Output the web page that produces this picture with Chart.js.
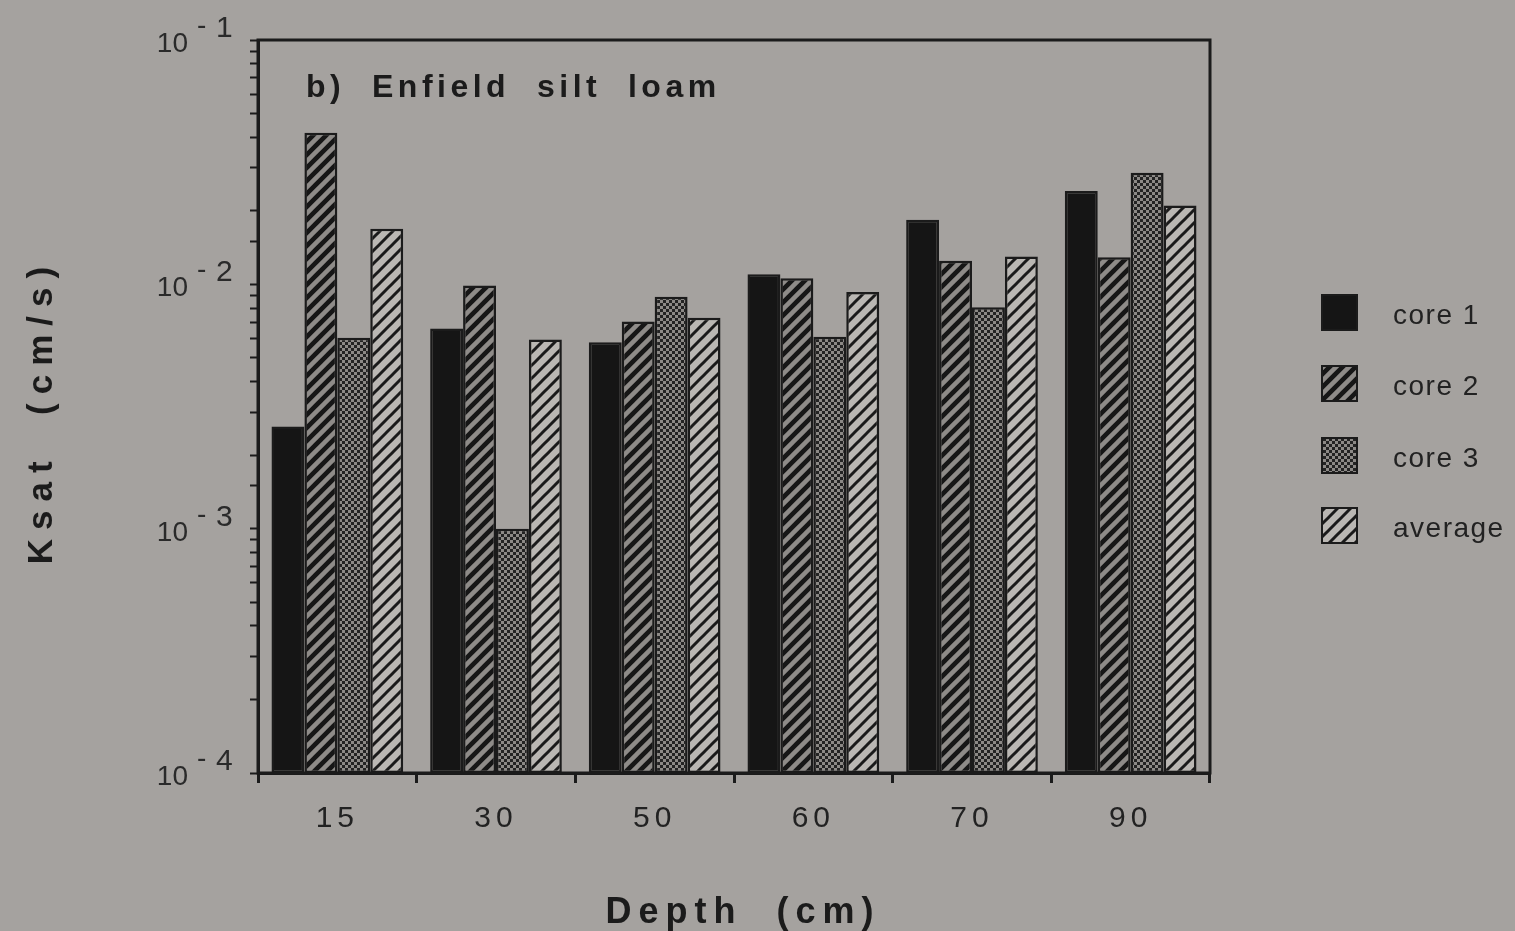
<!DOCTYPE html>
<html>
<head>
<meta charset="utf-8">
<script src="https://cdn.jsdelivr.net/npm/chart.js@4.4.1/dist/chart.umd.min.js"></script>
<style>
  html, body { margin: 0; padding: 0; background: #a5a29f; }
  #wrap { width: 1515px; height: 931px; }
</style>
</head>
<body>
<div id="wrap"><canvas id="chartKsat" width="1515" height="931"></canvas></div>
<script>
// Dados (Ksat em cm/s, escala log)
const depths = ['15', '30', '50', '60', '70', '90'];
const core1 = [2.62e-3, 6.6e-3, 5.8e-3, 1.1e-2, 1.84e-2, 2.41e-2];
const core2 = [4.17e-2, 9.9e-3, 7.05e-3, 1.06e-2, 1.25e-2, 1.29e-2];
const core3 = [6.05e-3, 1.0e-3, 8.9e-3, 6.1e-3, 8.05e-3, 2.86e-2];
const average = [1.69e-2, 5.95e-3, 7.3e-3, 9.3e-3, 1.3e-2, 2.1e-2];
const decades = [1e-4, 1e-3, 1e-2, 1e-1];
const decadeExp = ['4', '3', '2', '1'];

const BG = '#a5a29f';
const INK = '#1b1b1b';

// padrões de preenchimento (hachuras)
function stripes(bg, fg, width, period) {
    const c = document.createElement('canvas');
    c.width = period; c.height = period;
    const g = c.getContext('2d');
    g.fillStyle = bg;
    g.fillRect(0, 0, period, period);
    g.strokeStyle = fg;
    g.lineWidth = width;
    g.lineCap = 'square';
    [[0, period, period, 0], [-2, 2, 2, -2], [period - 2, period + 2, period + 2, period - 2]].forEach(l => {
        g.beginPath(); g.moveTo(l[0], l[1]); g.lineTo(l[2], l[3]); g.stroke();
    });
    return g.createPattern(c, 'repeat');
}

function dots(bg, fg) {
    const c = document.createElement('canvas');
    c.width = 6; c.height = 6;
    const g = c.getContext('2d');
    g.fillStyle = bg;
    g.fillRect(0, 0, 6, 6);
    g.fillStyle = fg;
    g.fillRect(0, 0, 3, 3);
    g.fillRect(3, 3, 3, 3);
    return g.createPattern(c, 'repeat');
}

const fillCore1 = '#151515';
const fillCore2 = stripes('#161616', '#8e8b88', 4.5, 13);
const fillCore3 = dots('#232323', '#8c8986');
const fillAvg = stripes('#bab7b3', '#1a1a1a', 3, 13);

// fundo, moldura, rótulos e legenda
const decorPlugin = {
    id: 'decor',
    beforeDraw(chart) {
        const ctx = chart.ctx;
        ctx.save();
        ctx.fillStyle = BG;
        ctx.fillRect(0, 0, chart.width, chart.height);
        ctx.restore();
        ctx.letterSpacing = '5px';
    },
    afterDraw(chart) {
        const ctx = chart.ctx;
        const a = chart.chartArea;
        const y = chart.scales.y;
        ctx.save();
        ctx.letterSpacing = '0px';

        // moldura
        ctx.strokeStyle = INK;
        ctx.lineWidth = 3;
        ctx.strokeRect(a.left, a.top, a.right - a.left, a.bottom - a.top);

        // rótulos do eixo y: 10^-n
        ctx.fillStyle = '#2a2a2a';
        decades.forEach((v, i) => {
            const py = y.getPixelForValue(v);
            ctx.font = '28px "Liberation Sans", Arial, sans-serif';
            ctx.textAlign = 'right';
            ctx.textBaseline = 'alphabetic';
            ctx.fillText('10', 188, py + 12);
            ctx.textAlign = 'left';
            ctx.fillText('-', 197, py - 6);
            ctx.font = '30px "Liberation Sans", Arial, sans-serif';
            ctx.fillText(decadeExp[i], 216, py - 3);
        });

        // título interno
        ctx.fillStyle = INK;
        ctx.font = 'bold 32px "Liberation Sans", Arial, sans-serif';
        ctx.letterSpacing = '4.5px';
        ctx.textAlign = 'left';
        ctx.fillText('b)  Enfield  silt  loam', 306, 97);

        // título do eixo x
        ctx.font = 'bold 36px "Liberation Sans", Arial, sans-serif';
        ctx.letterSpacing = '7px';
        ctx.textAlign = 'center';
        ctx.fillText('Depth  (cm)', 743, 923);

        // título do eixo y
        ctx.save();
        ctx.translate(52, 415);
        ctx.rotate(-Math.PI / 2);
        ctx.font = 'bold 35px "Liberation Sans", Arial, sans-serif';
        ctx.letterSpacing = '9px';
        ctx.textAlign = 'center';
        ctx.fillText('Ksat  (cm/s)', 4, 0);
        ctx.restore();

        // legenda
        const rows = [295, 366, 438, 508];
        ctx.font = '28px "Liberation Sans", Arial, sans-serif';
        ctx.letterSpacing = '1.5px';
        ctx.textAlign = 'left';
        ctx.textBaseline = 'middle';
        chart.data.datasets.forEach((ds, i) => {
            const top = rows[i];
            ctx.fillStyle = ds.backgroundColor;
            ctx.fillRect(1322, top, 35, 35);
            ctx.strokeStyle = INK;
            ctx.lineWidth = 2;
            ctx.strokeRect(1322, top, 35, 35);
            ctx.fillStyle = '#222';
            ctx.fillText(ds.label, 1393, top + 21);
        });
        ctx.restore();
    }
};

const barStyle = { borderColor: INK, borderWidth: 2.5, borderSkipped: false,
                   categoryPercentage: 0.83, barPercentage: 1.0 };

new Chart(document.getElementById('chartKsat'), {
    type: 'bar',
    data: {
        labels: depths,
        datasets: [
            { label: 'core 1', data: core1, backgroundColor: fillCore1, ...barStyle },
            { label: 'core 2', data: core2, backgroundColor: fillCore2, ...barStyle },
            { label: 'core 3', data: core3, backgroundColor: fillCore3, ...barStyle },
            { label: 'average', data: average, backgroundColor: fillAvg, ...barStyle }
        ]
    },
    options: {
        responsive: false,
        animation: false,
        layout: { padding: { left: 0, top: 40, right: 305, bottom: 0 } },
        plugins: { legend: { display: false }, tooltip: { enabled: false } },
        scales: {
            x: {
                type: 'category',
                offset: true,
                grid: { offset: true, drawOnChartArea: false, tickLength: 10, tickWidth: 3, tickColor: INK },
                border: { display: true, color: INK, width: 3 },
                ticks: { color: '#222', padding: 18, font: { size: 30, family: '"Liberation Sans", Arial, sans-serif' } },
                afterFit: (s) => { s.height = 158; }
            },
            y: {
                type: 'logarithmic',
                min: 1e-4,
                max: 1e-1,
                grid: { drawOnChartArea: false, tickLength: 8, tickWidth: 2, tickColor: INK },
                border: { display: true, color: INK, width: 3 },
                ticks: { autoSkip: false, callback: () => '' },
                afterFit: (s) => { s.width = 258; }
            }
        }
    },
    plugins: [decorPlugin]
});
</script>
</body>
</html>
